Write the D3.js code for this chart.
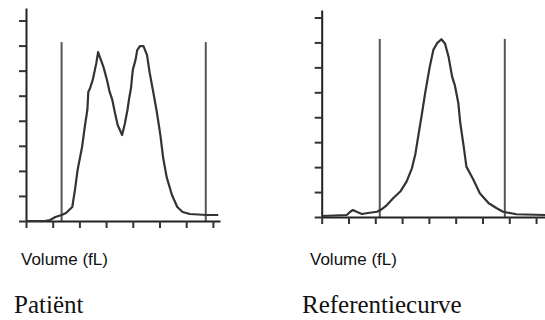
<!DOCTYPE html>
<html>
<head>
<meta charset="utf-8">
<script src="https://cdn.jsdelivr.net/npm/d3@7"></script>
<style>
  body { margin: 0; background: #fff; }
  svg { display: block; }
</style>
</head>
<body>
<script>
// volume (fL) and relative count
var patientVolume = [0, 21, 27, 33, 40, 45, 52, 55, 58, 63, 66, 69, 70, 72, 75, 79, 81, 83, 87, 91, 94, 97, 100, 103, 108, 111, 114, 116, 118, 120, 123, 125, 128, 132, 136, 139, 143, 147, 151, 154, 158, 164, 170, 176, 184, 203, 216];
var patientCount  = [0, 0, 0.04, 0.16, 0.24, 0.32, 0.56, 1.24, 2.04, 2.95, 3.75, 4.45, 5.15, 5.3, 5.63, 6.3, 6.74, 6.54, 6.15, 5.63, 5.15, 4.83, 4.31, 3.83, 3.43, 3.87, 4.43, 4.91, 5.31, 6.03, 6.42, 6.82, 6.98, 6.98, 6.62, 5.91, 5.15, 4.35, 3.43, 2.55, 1.76, 1.04, 0.56, 0.36, 0.28, 0.24, 0.24];

var referenceVolume = [0, 28, 32, 35, 39, 45, 50, 62, 67, 73, 80, 88, 95, 101, 105, 108, 112, 116, 121, 125, 129, 134, 138, 142, 146, 149, 153, 155, 159, 162, 170, 177, 187, 196, 203, 218, 250];
var referenceCount  = [0.04, 0.08, 0.21, 0.28, 0.21, 0.12, 0.15, 0.21, 0.31, 0.48, 0.75, 1.02, 1.42, 1.95, 2.55, 3.22, 4.09, 5.01, 6.03, 6.7, 6.96, 7.13, 6.96, 6.43, 5.63, 5.29, 4.56, 3.81, 2.82, 2.02, 1.48, 0.95, 0.55, 0.35, 0.21, 0.11, 0.08];

// discriminator lines (fL)
var patientLimits = [40, 202];
var referenceLimits = [65, 205];
var limitTop = 7.14;

var patientVolumeTicks = [0, 30, 60, 90, 120, 150, 180, 210];
var referenceVolumeTicks = [0, 30, 60, 90, 120, 150, 180, 210, 240];
var countTicks = [0, 1, 2, 3, 4, 5, 6, 7, 8];

var axisLabel = "Volume (fL)";
var titles = ["Patiënt", "Referentiecurve"];

var svg = d3.select("body").append("svg")
    .attr("width", 545)
    .attr("height", 320);

function histPanel(vol, cnt, limits, vTicks, xr, yr, xMax, yMax)
{
  var x = d3.scaleLinear().domain([0, xMax]).range(xr);
  var y = d3.scaleLinear().domain([0, yMax]).range(yr);
  var g = svg.append("g");

  // limit lines
  g.selectAll("line.limit").data(limits).enter().append("line")
      .attr("class", "limit")
      .attr("x1", function(d) { return x(d); })
      .attr("x2", function(d) { return x(d); })
      .attr("y1", y(limitTop))
      .attr("y2", y(0))
      .attr("stroke", "#555")
      .attr("stroke-width", 2);

  var xAxis = g.append("g")
      .attr("transform", "translate(0," + y(0) + ")")
      .call(d3.axisBottom(x).tickValues(vTicks).tickSize(7).tickSizeOuter(0).tickFormat(""));
  var yAxis = g.append("g")
      .attr("transform", "translate(" + x(0) + ",0)")
      .call(d3.axisLeft(y).tickValues(countTicks).tickSize(7).tickSizeOuter(0).tickFormat(""));
  [xAxis, yAxis].forEach(function(a) {
    a.select(".domain").attr("stroke", "#222").attr("stroke-width", 2);
    a.selectAll(".tick line").attr("stroke", "#333").attr("stroke-width", 2);
  });

  var line = d3.line()
      .x(function(d, i) { return x(vol[i]); })
      .y(function(d) { return y(d); });
  g.append("path")
      .attr("d", line(cnt))
      .attr("fill", "none")
      .attr("stroke", "#333")
      .attr("stroke-width", 2.2)
      .attr("stroke-linejoin", "round");
}

histPanel(patientVolume, patientCount, patientLimits, patientVolumeTicks, [26, 220], [221, 8], 218, 8.5);
histPanel(referenceVolume, referenceCount, referenceLimits, referenceVolumeTicks, [321.7, 545], [217, 10], 250, 8.3);

var labelX = [21, 310];
var titleX = [14, 302];
labelX.forEach(function(lx, i) {
  svg.append("text")
      .attr("x", lx).attr("y", 265)
      .attr("font-family", "Liberation Sans, Arial, sans-serif")
      .attr("font-size", 17)
      .attr("fill", "#111")
      .text(axisLabel);
  svg.append("text")
      .attr("x", titleX[i]).attr("y", 313)
      .attr("font-family", "Liberation Serif, Times New Roman, serif")
      .attr("font-size", 25)
      .attr("fill", "#111")
      .text(titles[i]);
});
</script>
</body>
</html>
